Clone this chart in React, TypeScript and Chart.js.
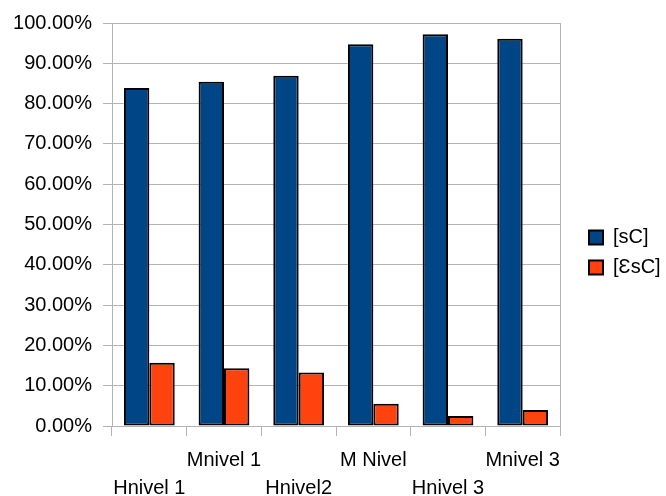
import { useEffect, useRef } from 'react';
import { Chart, registerables } from 'chart.js';

Chart.register(...registerables);

// Categories along the x axis
const categories = ['Hnivel 1', 'Mnivel 1', 'Hnivel2', 'M Nivel', 'Hnivel 3', 'Mnivel 3'];

// Series values, in percent
const scValues = [83.9, 85.4, 86.9, 94.7, 97.2, 96.1];
const escValues = [15.7, 14.3, 13.3, 5.5, 2.5, 4.0];

const seriesNames = ['[sC]', '[ƐsC]'];

// Value axis range
const yMin = 0;
const yMax = 100;
const yStep = 10;

const BLUE = '#004586';
const ORANGE = '#ff420e';
const GRID = '#b3b3b3';
const FONT = '"Liberation Sans", Arial, sans-serif';

export default function App() {
  const canvasRef = useRef<HTMLCanvasElement | null>(null);

  useEffect(() => {
    document.body.style.margin = '0';
    const canvas = canvasRef.current;
    if (!canvas) return;

    const chart = new Chart(canvas, {
      type: 'bar',
      data: {
        labels: categories,
        datasets: [
          {
            label: seriesNames[0],
            data: scValues,
            backgroundColor: BLUE,
            borderColor: '#000',
            borderWidth: 2,
            borderSkipped: false,
          },
          {
            label: seriesNames[1],
            data: escValues,
            backgroundColor: ORANGE,
            borderColor: '#000',
            borderWidth: 2,
            borderSkipped: false,
          },
        ],
      },
      options: {
        animation: false,
        responsive: true,
        maintainAspectRatio: false,
        datasets: {
          bar: { categoryPercentage: 0.68, barPercentage: 1.0 },
        },
        layout: { padding: { top: 23, left: 0, right: 0, bottom: 0 } },
        font: { family: FONT, size: 20 },
        color: '#000',
        plugins: {
          tooltip: { enabled: false },
          legend: {
            position: 'right',
            fullSize: false,
            maxWidth: 87,
            // empty title used as a spacer above the legend entries
            title: {
              display: true,
              text: '',
              font: { family: FONT, size: 20, lineHeight: 1.2 },
              padding: { top: 32, bottom: 0 },
            },
            labels: {
              color: '#000',
              font: { family: FONT, size: 20 },
              boxWidth: 14,
              boxHeight: 14,
              padding: 10,
            },
          },
        },
        scales: {
          x: {
            grid: {
              offset: true,
              drawOnChartArea: false,
              color: GRID,
              tickLength: 10,
            },
            border: { color: GRID, width: 1 },
            ticks: {
              color: '#000',
              font: { family: FONT, size: 20, lineHeight: 1.4 },
              autoSkip: false,
              maxRotation: 0,
              minRotation: 0,
              padding: 10,
              callback: (_v: any, i: number) =>
                i % 2 === 0 ? ['', categories[i]] : [categories[i]],
            },
            afterFit: (s: any) => {
              s.height = 70;
            },
          },
          y: {
            min: yMin,
            max: yMax,
            grid: { color: GRID, tickLength: 9, lineWidth: 1 },
            border: { color: GRID, width: 1 },
            ticks: {
              stepSize: yStep,
              color: '#000',
              font: { family: FONT, size: 20 },
              padding: 11,
              callback: (v: any) => Number(v).toFixed(2) + '%',
            },
            afterFit: (s: any) => {
              s.width = 112;
            },
          },
          frame: {
            type: 'linear',
            position: 'right',
            display: true,
            min: 0,
            max: 1,
            grid: { display: false, drawTicks: false },
            ticks: { display: false },
            border: { display: true, color: GRID, width: 1 },
            afterFit: (s: any) => {
              s.width = 19;
            },
          },
        },
      },
    } as any);

    return () => chart.destroy();
  }, []);

  return (
    <div style={{ position: 'relative', width: 666, height: 496 }}>
      <canvas ref={canvasRef} />
    </div>
  );
}
